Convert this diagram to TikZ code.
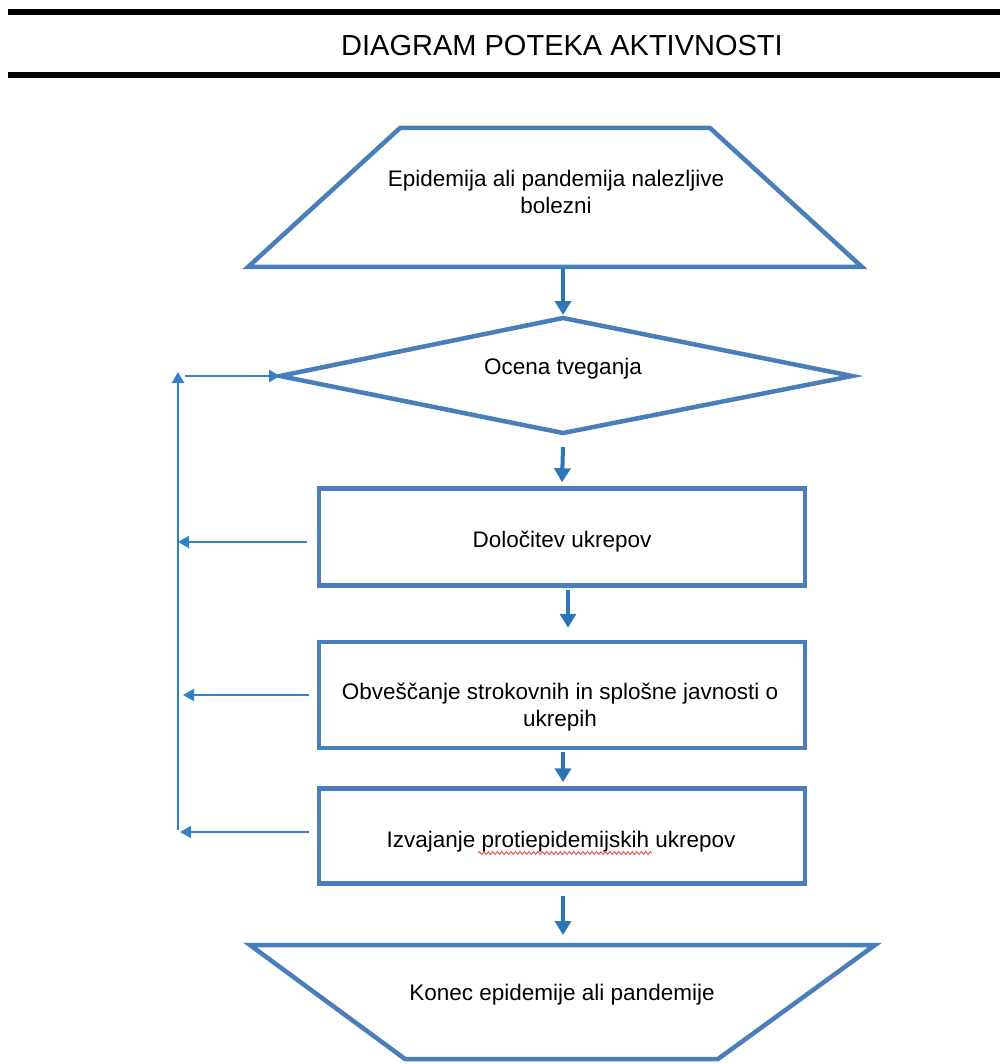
\documentclass[tikz,border=0pt]{standalone}
\usepackage{fontspec}
\setmainfont{Liberation Sans}
\usetikzlibrary{arrows.meta,decorations.pathmorphing}
\definecolor{shapeblue}{RGB}{74,126,187}
\definecolor{arrowblue}{RGB}{46,117,182}
\definecolor{fbblue}{RGB}{52,128,200}
\definecolor{squigred}{RGB}{235,70,70}
\tikzset{
  shapeline/.style={draw=shapeblue, line width=4.5pt, line join=miter},
  boxnode/.style={shapeline, rectangle, minimum width=486pt, minimum height=97pt, inner sep=0pt},
  txt/.style={font=\fontsize{22.5}{27}\selectfont, align=center, inner sep=0pt},
  mainarrow/.style={draw=arrowblue, line width=4pt, -{Triangle[width=16pt,length=14pt]}},
  fb/.style={draw=fbblue, line width=2pt, -{Triangle[width=12pt,length=11pt]}},
  rule/.style={draw=black, line width=6pt},
  squig/.style={draw=squigred, line width=0.9pt, decorate,
    decoration={snake, amplitude=1.4pt, segment length=4.5pt}}
}
\begin{document}
\begin{tikzpicture}[x=1pt,y=-1pt]
\useasboundingbox (0,0) rectangle (1000,1064);
% header
\draw[rule] (8,12) -- (1000,12);
\draw[rule] (8,75) -- (1000,75);
\node[font=\fontsize{29}{34}\selectfont, inner sep=0pt] (title) at (562,46) {DIAGRAM POTEKA AKTIVNOSTI};

% start trapezoid
\draw[shapeline] (400,128) -- (710,128) -- (862,267) -- (248,267) -- cycle;
\node[txt] (start) at (556,192) {Epidemija ali pandemija nalezljive\\bolezni};
\coordinate (startB) at (563,268);

% diamond
\coordinate (dW) at (280,376);
\coordinate (dN) at (563,318);
\coordinate (dE) at (852,376);
\coordinate (dS) at (563,433);
\draw[shapeline] (dW) -- (dN) -- (dE) -- (dS) -- cycle;
\node[txt] (risk) at (563,369) {Ocena tveganja};

% boxes
\node[boxnode] (b1) at (562,537) {};
\node[txt] (t1) at (562,542) {Določitev ukrepov};
\node[boxnode, minimum height=106pt] (b2) at (562,695) {};
\node[txt] (t2) at (560,707) {Obveščanje strokovnih in splošne javnosti o\\ukrepih};
\node[boxnode, minimum height=95pt] (b3) at (562,836) {};
\node[txt] (t3) at (561,842) {Izvajanje protiepidemijskih ukrepov};
\draw[squig] (478,853) -- (652,853);

% end trapezoid
\coordinate (endN) at (563,945);
\draw[shapeline] (250,945) -- (875,945) -- (718,1059) -- (405,1059) -- cycle;
\node[txt] (endtxt) at (562,995) {Konec epidemije ali pandemije};

% main arrows
\draw[mainarrow] (startB) -- ([yshift=3pt]dN);
\draw[mainarrow] ([yshift=-14pt]dS) -- ([yshift=4pt]b1.north);
\draw[mainarrow] ([xshift=6pt,yshift=-2pt]b1.south) -- ([xshift=6pt,yshift=12pt]b2.north);
\draw[mainarrow] ([xshift=1pt,yshift=-2pt]b2.south) -- ([xshift=1pt,yshift=4pt]b3.north);
\draw[mainarrow] ([xshift=1pt,yshift=-10pt]b3.south) -- ([yshift=10pt]endN);

% feedback loop
\coordinate (fbTop) at (178,372);
\coordinate (fbBot) at (178,830);
\coordinate (fbH) at (185,376);
\draw[fb] (fbBot) -- (fbTop);
\draw[fb] (fbH) -- (dW);
\draw[fb] ([xshift=-10pt,yshift=-5pt]b1.west) -- ([yshift=-5pt]b1.west -| fbTop);
\draw[fb] ([xshift=-8pt]b2.west) -- ([xshift=5pt]b2.west -| fbTop);
\draw[fb] ([xshift=-8pt,yshift=4pt]b3.west) -- ([xshift=2pt,yshift=4pt]b3.west -| fbTop);
\end{tikzpicture}
\end{document}
